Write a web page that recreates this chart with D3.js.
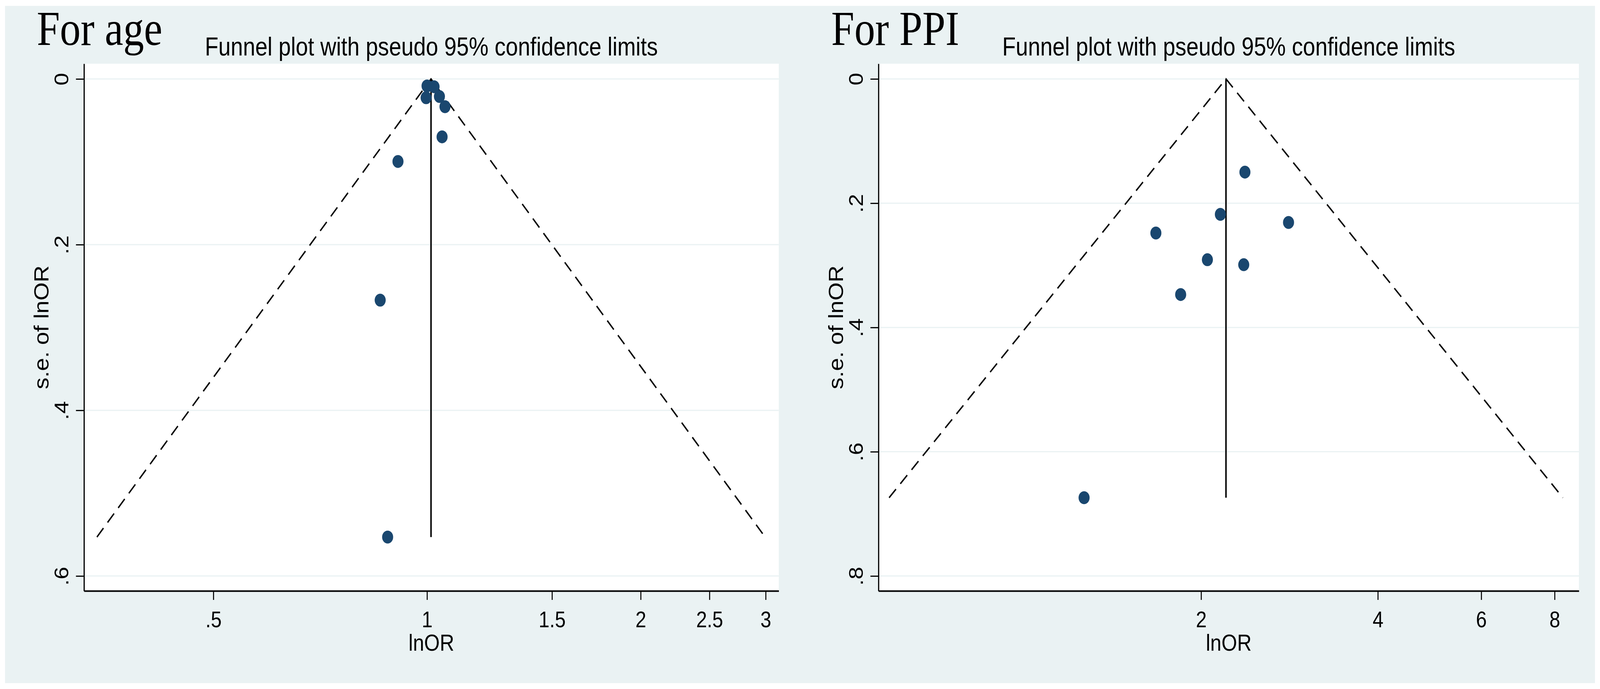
<!DOCTYPE html>
<html>
<head>
<meta charset="utf-8">
<script src="https://cdn.jsdelivr.net/npm/d3@7"></script>
<style>
  html, body { margin: 0; padding: 0; width: 100%; height: 100%; overflow: hidden; background: #ffffff; }
  #chart svg { display: block; width: 100vw; height: 100vh; }
  svg text { font-family: "Liberation Sans", Arial, sans-serif; fill: #000; }
</style>
</head>
<body>
<div id="chart"></div>
<script>
// panel labels and titles
const panelLabels = ["For age", "For PPI"];
const plotTitle = "Funnel plot with pseudo 95% confidence limits";
const xTitle = "lnOR";
const yTitle = "s.e. of lnOR";

// age: odds ratios (log axis) and their standard errors
const ageOR = [1.000, 1.023, 0.997, 1.041, 1.060, 1.050, 0.910, 0.859, 0.880];
const ageSE = [0.0085, 0.0094, 0.0227, 0.0212, 0.0335, 0.0699, 0.0996, 0.267, 0.553];
const agePooled = 1.013;
const ageXTicks = [0.5, 1, 1.5, 2, 2.5, 3];
const ageXLabels = [".5", "1", "1.5", "2", "2.5", "3"];
const ageYTicks = [0, 0.2, 0.4, 0.6];
const ageYLabels = ["0", ".2", ".4", ".6"];
const ageXDomain = [0.3286, 3.13];
const ageYDomain = [-0.0184, 0.618];

// PPI
const ppiOR = [2.375, 2.157, 2.818, 1.675, 2.050, 2.364, 1.846, 1.264];
const ppiSE = [0.150, 0.218, 0.231, 0.248, 0.291, 0.299, 0.347, 0.674];
const ppiPooled = 2.205;
const ppiXTicks = [2, 4, 6, 8];
const ppiXLabels = ["2", "4", "6", "8"];
const ppiYTicks = [0, 0.2, 0.4, 0.6, 0.8];
const ppiYLabels = ["0", ".2", ".4", ".6", ".8"];
const ppiXDomain = [0.5644, 8.80];
const ppiYDomain = [-0.0245, 0.824];

const W = 4781, H = 1763;
const bg = "#eaf2f3";
const navy = "#1a476f";

// drawn in a fixed 4781x1763 frame, stretched onto whatever the window is
const svg = d3.select("#chart").append("svg")
    .attr("viewBox", "0 0 " + W + " " + H)
    .attr("preserveAspectRatio", "none");

svg.append("rect")
    .attr("x", 15).attr("y", 15)
    .attr("width", W - 30).attr("height", H - 30)
    .attr("fill", bg);

function drawPanel(p) {
    const x = d3.scaleLog().domain(p.xDomain).range([p.left, p.right]);
    const y = d3.scaleLinear().domain(p.yDomain).range([p.top, p.bottom]);
    const cx = (p.left + p.right) / 2;
    const cy = (p.top + p.bottom) / 2;

    // plot region
    svg.append("rect")
        .attr("x", p.left).attr("y", p.top)
        .attr("width", p.right - p.left).attr("height", p.bottom - p.top)
        .attr("fill", "#ffffff");

    // horizontal grid
    svg.append("g").selectAll("line")
        .data(p.yTicks)
        .enter().append("line")
        .attr("x1", p.left).attr("x2", p.right)
        .attr("y1", d => y(d)).attr("y2", d => y(d))
        .attr("stroke", bg)
        .attr("stroke-width", 3);

    // funnel: pseudo 95% limits
    const seMax = d3.max(p.se);
    const funnel = [
        [p.pooled * Math.exp(-1.96 * seMax), seMax],
        [p.pooled, 0],
        [p.pooled * Math.exp(1.96 * seMax), seMax]
    ];
    const line = d3.line().x(d => x(d[0])).y(d => y(d[1]));
    svg.append("path")
        .attr("d", line(funnel))
        .attr("fill", "none")
        .attr("stroke", "#000")
        .attr("stroke-width", 4)
        .attr("stroke-dasharray", "30,19");

    svg.append("path")
        .attr("d", line([[p.pooled, 0], [p.pooled, seMax]]))
        .attr("stroke", "#000")
        .attr("stroke-width", 4.5);

    // studies
    svg.append("g").selectAll("circle")
        .data(p.or.map((d, i) => [d, p.se[i]]))
        .enter().append("circle")
        .attr("cx", d => x(d[0]))
        .attr("cy", d => y(d[1]))
        .attr("r", 16.5)
        .attr("fill", navy);

    // axes
    const xAxis = svg.append("g")
        .attr("transform", "translate(0," + p.bottom + ")")
        .call(d3.axisBottom(x)
            .tickValues(p.xTicks)
            .tickFormat((d, i) => p.xLabels[i])
            .tickSize(23)
            .tickSizeOuter(0));
    xAxis.select(".domain").attr("stroke", "#000").attr("stroke-width", 4);
    xAxis.selectAll(".tick line").attr("stroke", "#000").attr("stroke-width", 3);
    xAxis.selectAll(".tick text")
        .attr("y", 93).attr("dy", null)
        .style("font-size", "58px")
        .style("font-family", '"Liberation Sans", Arial, sans-serif');

    const yAxis = svg.append("g")
        .attr("transform", "translate(" + p.left + ",0)")
        .call(d3.axisLeft(y)
            .tickValues(p.yTicks)
            .tickFormat((d, i) => p.yLabels[i])
            .tickSize(24)
            .tickSizeOuter(0));
    yAxis.select(".domain").attr("stroke", "#000").attr("stroke-width", 3.5);
    yAxis.selectAll(".tick line").attr("stroke", "#000").attr("stroke-width", 3);
    yAxis.selectAll(".tick text")
        .attr("x", null).attr("dy", null)
        .attr("transform", "translate(-47,0) rotate(-90)")
        .attr("text-anchor", "middle")
        .style("font-size", "58px")
        .style("font-family", '"Liberation Sans", Arial, sans-serif');

    // titles
    svg.append("text")
        .attr("x", cx).attr("y", 142)
        .attr("text-anchor", "middle")
        .style("font-size", "66px")
        .text(plotTitle);

    svg.append("text")
        .attr("x", cx).attr("y", 1665)
        .attr("text-anchor", "middle")
        .style("font-size", "60px")
        .text(xTitle);

    svg.append("text")
        .attr("transform", "translate(" + (p.left - 106) + "," + cy + ") rotate(-90)")
        .attr("text-anchor", "middle")
        .style("font-size", "60px")
        .text(yTitle);

    svg.append("text")
        .attr("x", p.labelX).attr("y", 115)
        .style("font-family", '"Liberation Serif", "Times New Roman", serif')
        .style("font-size", "124px")
        .text(p.label);
}

drawPanel({
    label: panelLabels[0], labelX: 110,
    or: ageOR, se: ageSE, pooled: agePooled,
    xTicks: ageXTicks, xLabels: ageXLabels,
    yTicks: ageYTicks, yLabels: ageYLabels,
    xDomain: ageXDomain, yDomain: ageYDomain,
    left: 251, right: 2327, top: 163, bottom: 1512
});

drawPanel({
    label: panelLabels[1], labelX: 2484,
    or: ppiOR, se: ppiSE, pooled: ppiPooled,
    xTicks: ppiXTicks, xLabels: ppiXLabels,
    yTicks: ppiYTicks, yLabels: ppiYLabels,
    xDomain: ppiXDomain, yDomain: ppiYDomain,
    left: 2625, right: 4718, top: 163, bottom: 1512
});
</script>
</body>
</html>
